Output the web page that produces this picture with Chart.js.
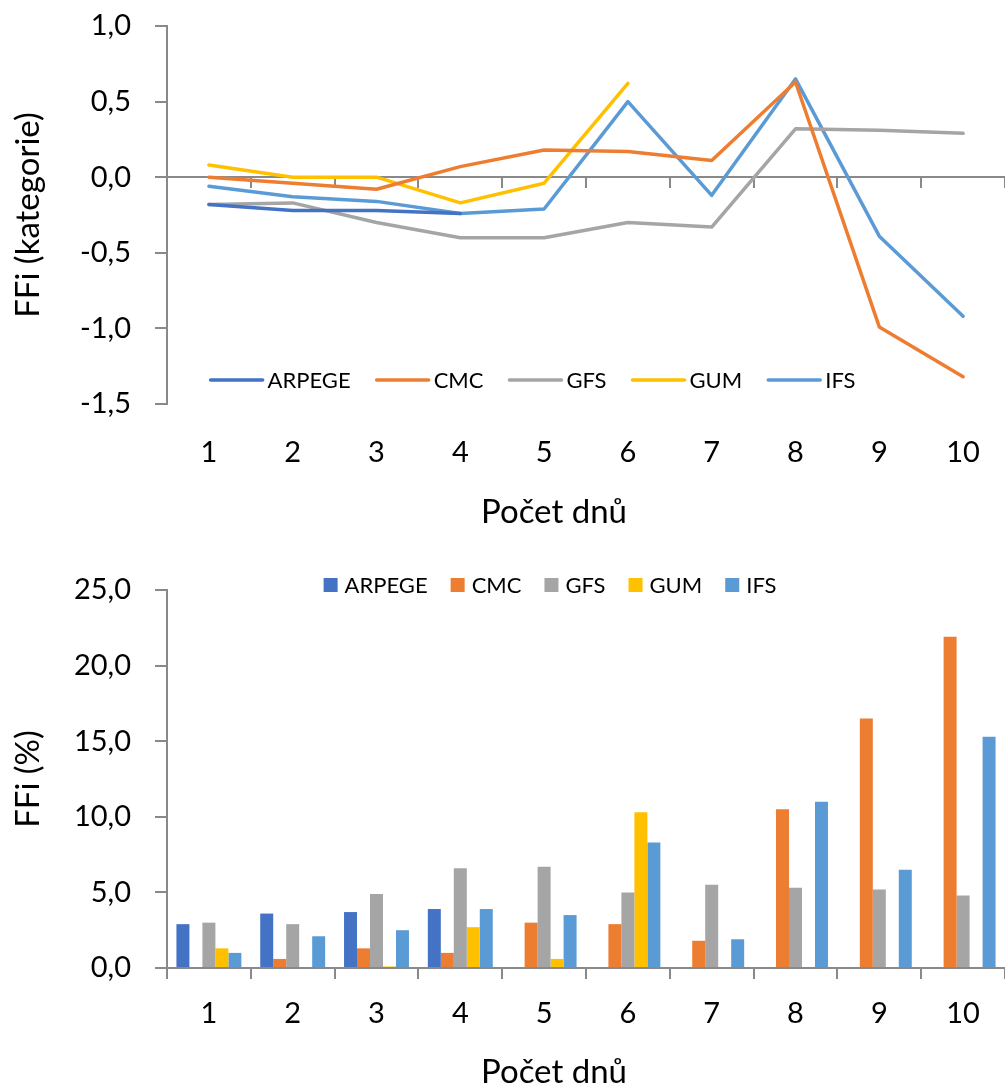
<!DOCTYPE html>
<html>
<head>
<meta charset="utf-8">
<script src="https://cdn.jsdelivr.net/npm/chart.js@4.4.1/dist/chart.umd.min.js"></script>
<style>
  html, body { margin: 0; padding: 0; background: #fff; }
  canvas { display: block; }
</style>
</head>
<body>
<canvas id="catChart" width="1005" height="540"></canvas>
<canvas id="pctChart" width="1005" height="548"></canvas>
<script>
// categories (lead time in days)
const days = ['1', '2', '3', '4', '5', '6', '7', '8', '9', '10'];
const models = ['ARPEGE', 'CMC', 'GFS', 'GUM', 'IFS'];
const colors = ['#4472C4', '#ED7D31', '#A5A5A5', '#FFC000', '#5B9BD5'];

// FFi (kategorie)
const arpegeCat = [-0.18, -0.22, -0.22, -0.24, null, null, null, null, null, null];
const cmcCat = [0.00, -0.04, -0.08, 0.07, 0.18, 0.17, 0.11, 0.63, -0.99, -1.32];
const gfsCat = [-0.18, -0.17, -0.30, -0.40, -0.40, -0.30, -0.33, 0.32, 0.31, 0.29];
const gumCat = [0.08, 0.00, 0.00, -0.17, -0.04, 0.62, null, null, null, null];
const ifsCat = [-0.06, -0.13, -0.16, -0.24, -0.21, 0.50, -0.12, 0.65, -0.39, -0.92];

// FFi (%)
const arpegePct = [2.9, 3.6, 3.7, 3.9, null, null, null, null, null, null];
const cmcPct = [null, 0.6, 1.3, 1.0, 3.0, 2.9, 1.8, 10.5, 16.5, 21.9];
const gfsPct = [3.0, 2.9, 4.9, 6.6, 6.7, 5.0, 5.5, 5.3, 5.2, 4.8];
const gumPct = [1.3, null, 0.1, 2.7, 0.6, 10.3, null, null, null, null];
const ifsPct = [1.0, 2.1, 2.5, 3.9, 3.5, 8.3, 1.9, 11.0, 6.5, 15.3];

const axisGray = '#898989';
const fontFamily = 'Lato, "Open Sans", sans-serif';
const commaFmt = v => Number(v).toFixed(1).replace('.', ',');

Chart.defaults.font.family = fontFamily;
Chart.defaults.color = '#000';

// legend drawn inside the plot area, like the Excel original
const inlineLegend = {
    id: 'inlineLegend',
    afterDraw(chart, args, opts) {
        const ctx = chart.ctx;
        ctx.save();
        ctx.font = opts.fontSize + 'px ' + fontFamily;
        ctx.textBaseline = 'middle';
        const items = chart.data.datasets.map(ds => ({
            text: ds.label,
            color: ds.borderColor,
            w: ctx.measureText(ds.label).width
        }));
        const itemW = it => opts.markerW + opts.gap + it.w;
        const total = items.reduce((s, it) => s + itemW(it), 0) + opts.spacing * (items.length - 1);
        let x = opts.centerX - total / 2;
        items.forEach(it => {
            if (opts.marker === 'line') {
                ctx.strokeStyle = it.color;
                ctx.lineWidth = 3.5;
                ctx.lineCap = 'round';
                ctx.beginPath();
                ctx.moveTo(x, opts.y);
                ctx.lineTo(x + opts.markerW, opts.y);
                ctx.stroke();
            } else {
                ctx.fillStyle = it.color;
                ctx.fillRect(x, opts.y - opts.markerW / 2, opts.markerW, opts.markerW);
            }
            ctx.fillStyle = '#000';
            ctx.fillText(it.text, x + opts.markerW + opts.gap, opts.y + 1);
            x += itemW(it) + opts.spacing;
        });
        ctx.restore();
    }
};

// x axis caption, centred where Excel put it (not on the plot centre)
const xCaption = {
    id: 'xCaption',
    afterDraw(chart, args, opts) {
        const ctx = chart.ctx;
        ctx.save();
        ctx.font = opts.fontSize + 'px ' + fontFamily;
        ctx.fillStyle = '#000';
        ctx.textAlign = 'center';
        ctx.textBaseline = 'middle';
        ctx.fillText(opts.text, opts.x, opts.y);
        ctx.restore();
    }
};

// fixed y axis width and no extra padding from the tick labels
function fixYAxis(s) {
    s.width = 167;
    s.paddingTop = 0;
    s.paddingBottom = 0;
}

function lineSet(label, data, color) {
    return {
        label: label,
        data: data,
        borderColor: color,
        backgroundColor: color,
        borderWidth: 3.5,
        pointRadius: 0,
        tension: 0,
        borderCapStyle: 'round',
        borderJoinStyle: 'round'
    };
}

function barSet(label, data, color) {
    return {
        label: label,
        data: data,
        borderColor: color,
        backgroundColor: color,
        borderWidth: 0,
        categoryPercentage: 0.775,
        barPercentage: 1.0
    };
}

new Chart(document.getElementById('catChart').getContext('2d'), {
    type: 'line',
    data: {
        labels: days,
        datasets: [
            lineSet(models[0], arpegeCat, colors[0]),
            lineSet(models[1], cmcCat, colors[1]),
            lineSet(models[2], gfsCat, colors[2]),
            lineSet(models[3], gumCat, colors[3]),
            lineSet(models[4], ifsCat, colors[4])
        ]
    },
    plugins: [inlineLegend, xCaption],
    options: {
        responsive: false,
        animation: false,
        layout: { padding: { top: 26, right: 0, bottom: 0, left: 0 } },
        plugins: {
            legend: { display: false },
            tooltip: { enabled: false },
            inlineLegend: { y: 380, centerX: 533, marker: 'line', markerW: 52, gap: 5, spacing: 26, fontSize: 22 },
            xCaption: { text: 'Počet dnů', x: 554, y: 512, fontSize: 33 }
        },
        scales: {
            x: {
                offset: true,
                grid: { display: false },
                border: { display: false },
                ticks: { padding: 23, font: { size: 29 } },
                afterFit: s => { s.height = 136; }
            },
            x2: {
                type: 'category',
                position: { y: 0 },
                offset: true,
                grid: { offset: true, drawOnChartArea: false, drawTicks: true, tickLength: 10, color: axisGray, lineWidth: 2 },
                border: { display: true, color: axisGray, width: 2 },
                ticks: { display: false },
                afterFit: s => { s.height = 0; }
            },
            y: {
                min: -1.5,
                max: 1.0,
                ticks: { stepSize: 0.5, padding: 24, font: { size: 29 }, callback: commaFmt },
                grid: { drawOnChartArea: false, drawTicks: true, tickLength: 12, color: axisGray, lineWidth: 2 },
                border: { display: true, color: axisGray, width: 2 },
                title: { display: true, text: 'FFi (kategorie)', font: { size: 33 }, padding: { top: 9 } },
                afterFit: fixYAxis
            }
        }
    }
});

new Chart(document.getElementById('pctChart').getContext('2d'), {
    type: 'bar',
    data: {
        labels: days,
        datasets: [
            barSet(models[0], arpegePct, colors[0]),
            barSet(models[1], cmcPct, colors[1]),
            barSet(models[2], gfsPct, colors[2]),
            barSet(models[3], gumPct, colors[3]),
            barSet(models[4], ifsPct, colors[4])
        ]
    },
    plugins: [inlineLegend, xCaption],
    options: {
        responsive: false,
        animation: false,
        layout: { padding: { top: 50, right: 0, bottom: 0, left: 0 } },
        plugins: {
            legend: { display: false },
            tooltip: { enabled: false },
            inlineLegend: { y: 45, centerX: 550, marker: 'box', markerW: 14, gap: 7, spacing: 23, fontSize: 22 },
            xCaption: { text: 'Počet dnů', x: 554, y: 532, fontSize: 33 }
        },
        scales: {
            x: {
                grid: { offset: true, drawOnChartArea: false, drawTicks: true, tickLength: 11, color: axisGray, lineWidth: 2 },
                border: { display: true, color: axisGray, width: 2 },
                ticks: { padding: 17, font: { size: 29 } },
                afterFit: s => { s.height = 120; }
            },
            y: {
                min: 0,
                max: 25,
                ticks: { stepSize: 5, padding: 24, font: { size: 29 }, callback: commaFmt },
                grid: { drawOnChartArea: false, drawTicks: true, tickLength: 12, color: axisGray, lineWidth: 2 },
                border: { display: true, color: axisGray, width: 2 },
                title: { display: true, text: 'FFi (%)', font: { size: 33 }, padding: { top: 9 } },
                afterFit: fixYAxis
            }
        }
    }
});
</script>
</body>
</html>
